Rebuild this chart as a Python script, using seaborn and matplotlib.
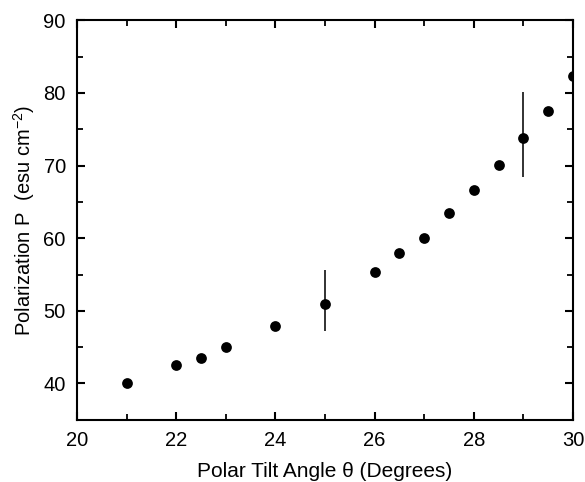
import numpy as np
import pandas as pd
import matplotlib
matplotlib.use("Agg")
import matplotlib.pyplot as plt
from matplotlib.ticker import MultipleLocator
import seaborn as sns

# data
theta = [21, 22, 22.5, 23, 24, 25, 26, 26.5, 27, 27.5, 28, 28.5, 29, 29.5, 30]
polarization = [40.1, 42.5, 43.5, 45.0, 47.9, 51.0, 55.4, 57.9, 60.0, 63.4,
                66.6, 70.1, 73.8, 77.5, 82.3]

# only two points carry error bars
err_theta = [25, 29]
err_low = [47.2, 68.4]
err_high = [55.6, 80.1]

sns.set_style("ticks")
plt.rcParams["font.family"] = ["Liberation Sans", "DejaVu Sans"]
plt.rcParams["mathtext.default"] = "regular"
plt.rcParams["text.color"] = "black"
plt.rcParams["axes.labelcolor"] = "black"

df = pd.DataFrame({"theta": theta, "P": polarization})

fig = plt.figure(figsize=(5.85, 4.82), dpi=100)
ax = fig.add_axes([0.1316, 0.129, 0.848, 0.829])

# error bars first so the dots sit on top
ax.vlines(err_theta, err_low, err_high, colors="#222222", linewidth=1.3, zorder=2)

sns.scatterplot(data=df, x="theta", y="P", ax=ax, color="black", s=60,
                edgecolor="black", linewidth=0, zorder=3)

ax.set_xlim(20, 30)
ax.set_ylim(35, 90)
ax.xaxis.set_major_locator(MultipleLocator(2))
ax.xaxis.set_minor_locator(MultipleLocator(1))
ax.yaxis.set_major_locator(MultipleLocator(10))
ax.yaxis.set_minor_locator(MultipleLocator(5))

ax.tick_params(which="both", direction="in", top=True, right=True,
               labeltop=False, labelright=False, colors="black")
ax.tick_params(which="major", length=6, width=1.5, labelsize=14.5, pad=8)
ax.tick_params(which="minor", length=4, width=1.3)
for sp in ax.spines.values():
    sp.set_linewidth(1.5)
    sp.set_color("black")

ax.set_xlabel("Polar Tilt Angle \u03b8 (Degrees)", fontsize=15, labelpad=9)
ax.set_ylabel("Polarization P  (esu cm$^{-2}$)", fontsize=14.5, labelpad=5)

fig.savefig("out.png", dpi=100)
plt.close(fig)
